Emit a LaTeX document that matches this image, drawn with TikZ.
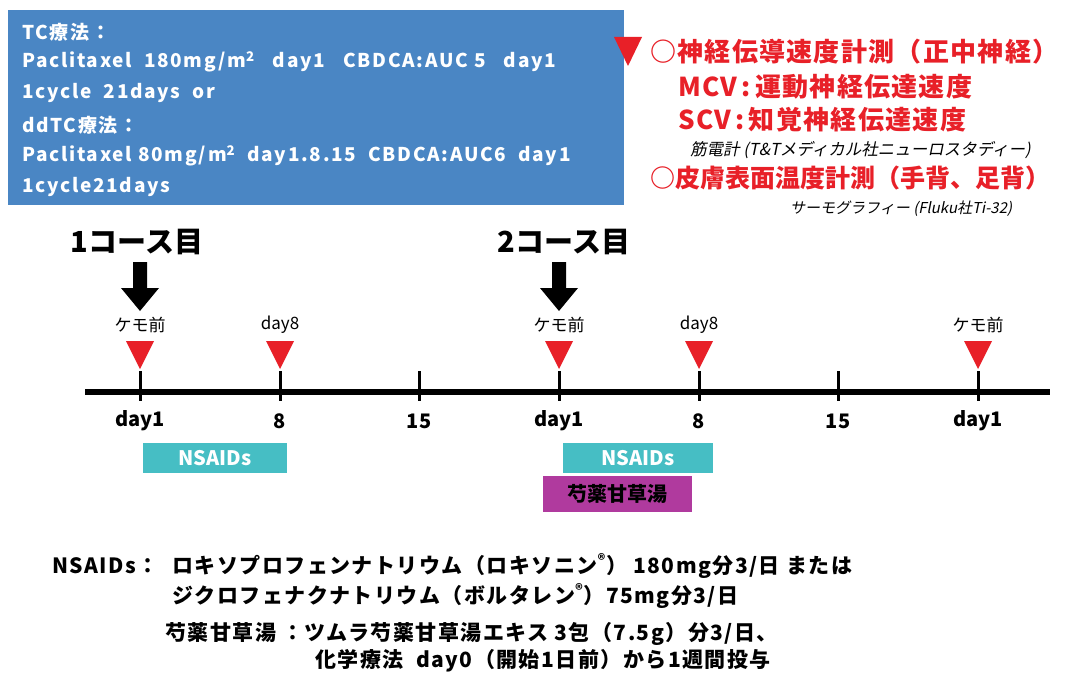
\documentclass[tikz,border=0pt]{standalone}
\usepackage{fontspec}
\setmainfont{Noto Sans CJK JP}
\newfontfamily\jpit[FakeSlant=0.2]{Noto Sans CJK JP}
\newfontfamily\jpwide[LetterSpace=9]{Noto Sans CJK JP}
\newfontfamily\jpred[LetterSpace=5]{Noto Sans CJK JP}
\newfontfamily\jpnote[LetterSpace=7]{Noto Sans CJK JP}
\definecolor{boxblue}{RGB}{74,134,196}
\definecolor{tcol}{RGB}{70,190,196}
\definecolor{mcol}{RGB}{176,58,158}
\definecolor{mred}{RGB}{232,32,40}
\tikzset{
  bluetxt/.style={anchor=west,text=white,inner sep=0,font=\jpwide\bfseries\fontsize{19}{21}\selectfont},
  redtxt/.style={anchor=west,text=mred,inner sep=0,font=\jpred\bfseries\fontsize{26}{28}\selectfont},
  redtxtb/.style={anchor=west,text=mred,inner sep=0,font=\bfseries\fontsize{25}{27}\selectfont},
  smallit/.style={anchor=west,inner sep=0,font=\jpit\fontsize{15}{17}\selectfont},
  course/.style={anchor=center,inner sep=0,font=\bfseries\fontsize{29}{31}\selectfont},
  obs/.style={anchor=center,inner sep=0,font=\fontsize{17}{19}\selectfont},
  daylab/.style={anchor=center,inner sep=0,font=\bfseries\fontsize{20}{22}\selectfont},
  drugbox/.style={anchor=north west,inner sep=0,font=\bfseries\fontsize{20}{22}\selectfont},
  note/.style={anchor=west,inner sep=0,font=\jpnote\bfseries\fontsize{21}{23}\selectfont},
  redtri/.style={fill=mred},
}
\begin{document}
\begin{tikzpicture}[x=1pt,y=-1pt]
\useasboundingbox (0,0) rectangle (1068,677);
\fill[white] (0,0) rectangle (1068,677);
% blue regimen box
\node[fill=boxblue,anchor=north west,inner sep=0,minimum width=616pt,minimum height=195pt] (tcbox) at (8,10) {};
\node[bluetxt] (b1) at (22,32) {TC療法：};
\node[bluetxt] (b2) at (22,62) {Paclitaxel\ \ 180mg/m\textsuperscript{2}\ \ \ day1\ \ \ CBDCA:AUC 5\ \ \ day1};
\node[bluetxt] (b3) at (22,93) {1cycle\ \ 21days\ \ or};
\node[bluetxt] (b4) at (22,125) {ddTC療法：};
\node[bluetxt] (b5) at (22,156) {Paclitaxel 80mg/m\textsuperscript{2}\ \ day1.8.15\ \ CBDCA:AUC6\ \ day1};
\node[bluetxt] (b6) at (22,187) {1cycle21days};
% red measurement legend
\fill[redtri] (614,37) -- (642,37) -- (628,66) -- cycle;
\node[redtxt] (r1) at (650,52) {○神経伝導速度計測（正中神経）};
\node[redtxt] (r2) at (678,87) {MCV\,:\,運動神経伝達速度};
\node[redtxt] (r3) at (678,120) {SCV\,:\,知覚神経伝達速度};
\node[smallit,font=\jpit\fontsize{16.5}{18}\selectfont] (r4) at (690,150) {筋電計 (T\&Tメディカル社ニューロスタディー)};
\node[redtxtb] (r5) at (650,178) {○皮膚表面温度計測（手背、足背）};
\node[smallit] (r6) at (790,209) {サーモグラフィー (Fluku社Ti-32)};
% course labels
\node[course] (c1) at (137,242) {1コース目};
\node[course] (c2) at (564,242) {2コース目};
\coordinate (a1) at (140,262);
\coordinate (a2) at (559,262);
\foreach \a in {a1,a2}{
  \fill ([xshift=-7pt]\a) -- ([xshift=7pt]\a) -- ([xshift=7pt,yshift=-26pt]\a) -- ([xshift=19pt,yshift=-26pt]\a)
    -- ([yshift=-49pt]\a) -- ([xshift=-19pt,yshift=-26pt]\a) -- ([xshift=-7pt,yshift=-26pt]\a) -- cycle;
}
% timeline
\coordinate (L) at (85,392);
\coordinate (R) at (1050,392);
\draw[line width=6pt] (L) -- (R);
\foreach \i/\x/\lab in {1/140/day1,2/280/8,3/419/15,4/559/day1,5/699/8,6/838/15,7/978/day1}{
  \coordinate (t\i) at (\x,371);
  \coordinate (u\i) at (\x,401);
  \draw[line width=3pt] (t\i) -- (u\i);
  \node[daylab] (d\i) at (\x,421) {\lab};
}
% observation markers
\foreach \i/\lab in {1/ケモ前,2/day8,4/ケモ前,5/day8,7/ケモ前}{
  \fill[redtri] ([xshift=-14pt,yshift=30pt]t\i) -- ([xshift=14pt,yshift=30pt]t\i) -- ([yshift=2pt]t\i) -- cycle;
  \node[obs] (o\i) at ([yshift=46pt]t\i) {\lab};
}
% drug bars
\node[drugbox,fill=tcol,text=white,minimum width=144pt,minimum height=30pt] (n1) at (143,443) {NSAIDs};
\node[drugbox,fill=tcol,text=white,minimum width=150pt,minimum height=30pt] (n2) at (563,443) {NSAIDs};
\node[drugbox,fill=mcol,text=black,minimum width=149pt,minimum height=36pt] (k1) at (543,476) {芍薬甘草湯};
% notes
\node[note] (e1) at (52,566) {NSAIDs：};
\node[note] (e2) at (172,566) {ロキソプロフェンナトリウム（ロキソニン\textsuperscript{®}）\ 180mg分3/日 または};
\node[note] (e3) at (172,596) {ジクロフェナクナトリウム（ボルタレン\textsuperscript{®}）75mg分3/日};
\node[note] (e4) at (165,634) {芍薬甘草湯\ ：ツムラ芍薬甘草湯エキス\ 3包（7.5g）分3/日、};
\node[note] (e5) at (315,661) {化学療法\ \ day0（開始1日前）から1週間投与};
\end{tikzpicture}
\end{document}
